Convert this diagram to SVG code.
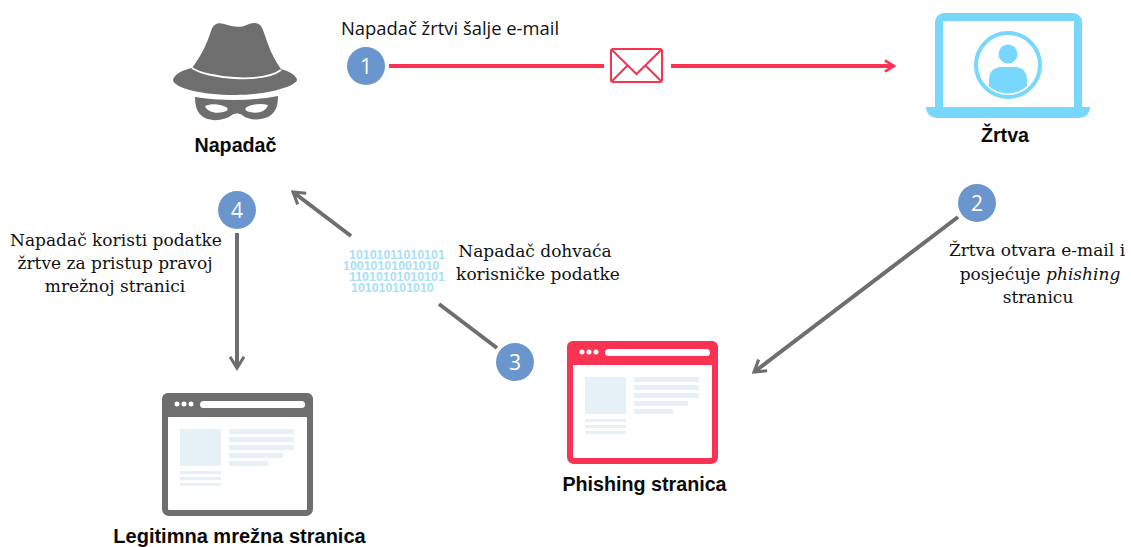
<svg xmlns="http://www.w3.org/2000/svg" width="1131" height="547" viewBox="0 0 1131 547">
<style>
text{font-family:"DejaVu Serif",serif;font-size:17px;fill:#111;text-anchor:middle}
.t{font-family:"Liberation Sans",Arial,sans-serif;font-weight:700;font-size:19.7px;fill:#0a0a0a}
.s{font-family:"Open Sans","Noto Sans",sans-serif;font-size:18.4px;text-anchor:start}
.n{font-family:"Open Sans","Noto Sans",sans-serif;font-size:21px;fill:#fff}
.b{font-family:"Liberation Sans",Arial,sans-serif;font-weight:700;font-size:12.4px;fill:#a6e0f9;text-anchor:start}
.badge{fill:#6a95cd}
.g{fill:none;stroke:#6e6e6e;stroke-width:4}
.r{fill:none;stroke:#fb3353;stroke-width:4}
.l{fill:#e6f0f7}
</style>
<defs>
<g id="page">
<rect class="l" x="18" y="36" width="41" height="37"/>
<rect class="l" x="18" y="78" width="41" height="3"/><rect class="l" x="18" y="84" width="41" height="3"/><rect class="l" x="18" y="90" width="41" height="3"/>
<rect class="l" x="67" y="36" width="65" height="5"/><rect class="l" x="67" y="44" width="65" height="5"/><rect class="l" x="67" y="52" width="65" height="5"/><rect class="l" x="67" y="60" width="54" height="5"/><rect class="l" x="67" y="68" width="39" height="5"/>
<circle cx="15" cy="11" r="2.5" fill="#fff"/><circle cx="22" cy="11" r="2.5" fill="#fff"/><circle cx="29" cy="11" r="2.5" fill="#fff"/>
<rect x="38" y="8" width="105" height="7" rx="3.5" fill="#fff"/>
</g>
<marker id="ag" viewBox="0 0 12 12" refX="10" refY="6" markerWidth="4.2" markerHeight="4.2" orient="auto" markerUnits="strokeWidth"><path d="M2 1L10 6L2 11" fill="none" stroke="#6e6e6e" stroke-width="2.2"/></marker>
<marker id="ar" viewBox="0 0 12 12" refX="10" refY="6" markerWidth="3.4" markerHeight="3.4" orient="auto" markerUnits="strokeWidth"><path d="M2 1L10 6L2 11" fill="none" stroke="#fb3353" stroke-width="2.4"/></marker>
</defs>
<g id="connectors">
<path class="r" d="M389 66H604"/>
<path class="r" d="M671 66H894" marker-end="url(#ar)"/>
<path class="g" d="M958 217L754 372" marker-end="url(#ag)"/>
<path class="g" d="M351 236L293 192" marker-end="url(#ag)"/>
<path class="g" d="M439 304L497 348"/>
<path class="g" d="M237 233V368" marker-end="url(#ag)"/>
</g>
<g id="attacker">
<path fill="#6e6e6e" d="M192 68C201 56 207 44 211 31C213 24 218 22 224 24C231 26 238 28 244 26C249 24 255 21 260 25C263 28 265 36 268 44C271 53 276 62 281 69C289 71 297 76 297 80C296 86 268 95 235 95C201 95 174 88 173 80C174 74 183 70 192 68Z"/>
<path fill="none" stroke="#fff" stroke-width="1.8" d="M192 68C206 78 262 84 281 70"/>
<path fill="#6e6e6e" fill-rule="evenodd" d="M195 97C220 101 253 101 278 96C278 105 276 113 268 117C259 121 248 120 242 115C239 113 235 113 232 115C225 120 214 122 205 118C197 114 195 106 195 97ZM205 106C207 112 216 114 223 112C228 111 229 109 226 107C220 104 212 103 205 106ZM268 105C261 103 252 104 247 107C244 109 245 111 250 112C257 114 266 112 268 105Z"/>
<text class="t" x="235.500" y="152">Napadač</text>
</g>
<g id="victim">
<rect x="939" y="17" width="139" height="96" rx="5" fill="none" stroke="#77d7fd" stroke-width="8"/>
<path fill="#77d7fd" d="M926 107H1090C1090 114 1085 118 1078 118H938C931 118 926 114 926 107Z"/>
<circle cx="1008" cy="65" r="32" fill="none" stroke="#77d7fd" stroke-width="4"/>
<circle cx="1008" cy="54" r="9.500" fill="#77d7fd"/>
<path fill="#77d7fd" d="M989 86V80C989 72 994 67 1001 67H1015C1022 67 1027 72 1027 80V86C1016 96 1000 96 989 86Z"/>
<text class="t" x="1005" y="142">Žrtva</text>
</g>
<g id="envelope">
<rect x="611" y="49" width="51" height="33" rx="2" fill="none" stroke="#fb3353" stroke-width="2"/>
<path fill="none" stroke="#fb3353" stroke-width="2" d="M612 50L636.500 74L661 50M612 81L627 66M661 81L646 66"/>
</g>
<g id="phishing">
<rect x="570" y="344" width="145" height="117" rx="4" fill="#fff" stroke="#fb3353" stroke-width="6"/>
<rect x="567" y="341" width="151" height="24" rx="6" fill="#fb3353"/>
<use href="#page" x="567" y="341"/>
<text class="t" x="644.500" y="491">Phishing stranica</text>
</g>
<g id="legit">
<rect x="165" y="396" width="145" height="117" rx="4" fill="#fff" stroke="#6e6e6e" stroke-width="6"/>
<rect x="162" y="393" width="151" height="24" rx="6" fill="#6e6e6e"/>
<use href="#page" x="162" y="393"/>
<text class="t" x="239.500" y="543" style="font-size:20px">Legitimna mrežna stranica</text>
</g>
<g id="data">
<text class="b"><tspan x="349" y="259">10101011010101</tspan><tspan x="343" y="270">10010101001010</tspan><tspan x="349" y="281">11010101010101</tspan><tspan x="351" y="292">101010101010</tspan></text>
</g>
<g id="step1"><circle class="badge" cx="366" cy="66" r="19"/><text class="n" x="366" y="74">1</text>
<text class="s" x="341" y="35">Napadač žrtvi šalje e-mail</text></g>
<g id="step2"><circle class="badge" cx="977" cy="203" r="19"/><text class="n" x="977" y="211">2</text>
<text x="1037" y="256">Žrtva otvara e-mail i</text>
<text x="1040" y="280">posjećuje <tspan font-style="italic">phishing</tspan></text>
<text x="1038" y="303">stranicu</text></g>
<g id="step3"><circle class="badge" cx="515" cy="362" r="19"/><text class="n" x="515" y="370">3</text>
<text x="535" y="257">Napadač dohvaća</text>
<text x="538" y="280">korisničke podatke</text></g>
<g id="step4"><circle class="badge" cx="237" cy="210" r="19"/><text class="n" x="237" y="218">4</text>
<text x="116" y="246">Napadač koristi podatke</text>
<text x="115" y="269">žrtve za pristup pravoj</text>
<text x="115" y="292">mrežnoj stranici</text></g>
</svg>
